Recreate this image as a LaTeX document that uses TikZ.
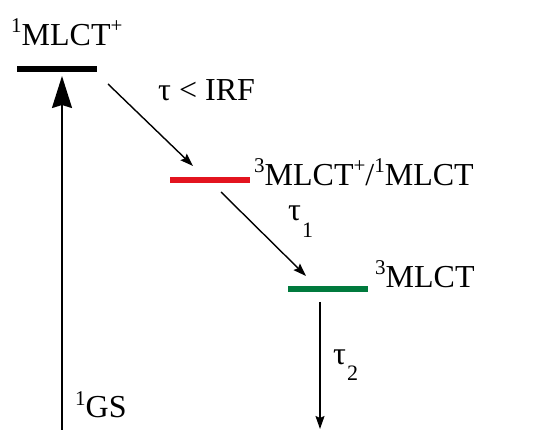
\documentclass[tikz,border=0pt]{standalone}
\usepackage{fontspec}
\setmainfont{Liberation Serif}
\usetikzlibrary{arrows.meta}
\definecolor{lvred}{HTML}{E3141F}
\definecolor{lvgreen}{HTML}{007A3D}
\tikzset{
  level/.style={fill=#1, draw=none, minimum width=80pt, minimum height=5.5pt, inner sep=0pt},
  lbl/.style={anchor=base west, inner sep=0pt, font=\fontsize{32}{38}\selectfont},
  sub/.style={anchor=base west, inner sep=0pt, font=\fontsize{22}{26}\selectfont},
  thinarrow/.style={line width=1.4pt, -{Stealth[length=13pt,width=9pt,inset=2pt]}},
  bigarrow/.style={line width=2pt, -{Stealth[length=32pt,width=20pt,inset=3pt]}},
}
\newcommand{\supnum}[1]{\raisebox{13pt}{\fontsize{21}{24}\selectfont #1}}
\begin{document}
\begin{tikzpicture}[x=1pt,y=-1pt]
\useasboundingbox (0,0) rectangle (536,430);
% levels
\node[level=black] (s1) at (57,69) {};
\node[level=lvred] (s2) at (210,180) {};
\node[level=lvgreen] (s3) at (328,289) {};
% labels
\node[lbl] (t1) at (11,46) {\supnum{1}MLCT\supnum{+}};
\node[lbl] (t2) at (254,186) {\supnum{3}MLCT\supnum{+}/\supnum{1}MLCT};
\node[lbl] (t3) at (375,288) {\supnum{3}MLCT};
\node[lbl] (gs) at (75,418) {\supnum{1}GS};
\node[lbl] (k0) at (158,101) {τ < IRF};
\node[lbl] (k1) at (288,221) {τ};
\node[sub] (k1s) at (302,238) {1};
\node[lbl] (k2) at (333,365) {τ};
\node[sub] (k2s) at (347,381) {2};
% connector endpoints
\coordinate (gsb) at (62,432);
\coordinate (s1b) at (62,76);
\coordinate (a0s) at (108,84);
\coordinate (a0e) at (193,166);
\coordinate (a1s) at (221,192);
\coordinate (a1e) at (306,276);
\coordinate (a2s) at (320,302);
\coordinate (a2e) at (320,429);
% arrows
\draw[bigarrow] (gsb) -- (s1b);
\draw[thinarrow] (a0s) -- (a0e);
\draw[thinarrow] (a1s) -- (a1e);
\draw[thinarrow] (a2s) -- (a2e);
\end{tikzpicture}
\end{document}
